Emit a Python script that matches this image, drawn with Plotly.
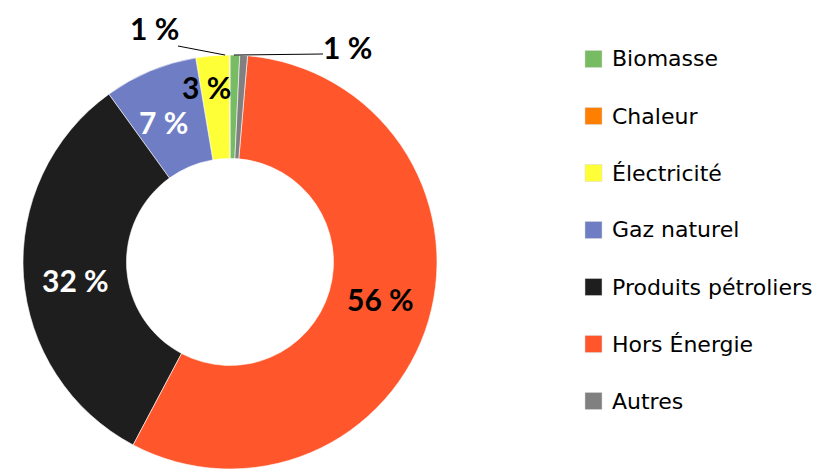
import math
import plotly.graph_objects as go

# ---- data ----
categories = ["Biomasse", "Chaleur", "Électricité", "Gaz naturel",
              "Produits pétroliers", "Hors Énergie", "Autres"]
values = [0.75, 0.05, 2.6, 7.3, 32.3, 56.4, 0.6]
value_labels = ["1 %", "", "3 %", "7 %", "32 %", "56 %", "1 %"]
colors = ["#77BB62", "#FF8000", "#FFFF38", "#6E7DC4",
          "#1E1E1E", "#FF562B", "#808080"]
label_colors = ["#000000", "#000000", "#000000", "#FFFFFF",
                "#FFFFFF", "#000000", "#000000"]

# ---- geometry (pixels) ----
W, H = 838, 469
CX, CY, R = 230, 262, 207
HOLE = 0.5
LABEL_FONT = "Lato"
LEGEND_FONT = "DejaVu Sans"


def px(x):
    return x / W


def py(y):
    return 1 - y / H


def clamp(v):
    return min(1.0, max(0.0, v))


fig = go.Figure()
fig.add_trace(go.Pie(
    labels=categories, values=values, sort=False,
    direction="counterclockwise", rotation=0, hole=HOLE,
    marker=dict(colors=colors, line=dict(color="white", width=0.6)),
    textinfo="none", hoverinfo="label+percent", showlegend=False,
    domain=dict(x=[clamp(px(CX - R)), clamp(px(CX + R))],
                y=[clamp(py(CY + R)), clamp(py(CY - R))]),
))

# slice mid angles (degrees clockwise from 12 o'clock), counterclockwise direction
total = sum(values)
cum = 0.0
mids = []
for v in values:
    start = cum / total * 360
    cum += v
    end = cum / total * 360
    mids.append(360 - (start + end) / 2)


def polar(angle, r):
    a = math.radians(angle)
    return CX + r * math.sin(a), CY - r * math.cos(a)


annotations = []
shapes = []
mid_r = R * (1 + HOLE) / 2
radius_factor = {2: 1.14}
# outside labels for tiny slices: text centre and leader start (pixels)
outside = {0: ((154, 28), (178, 46)), 6: ((347, 47), (323, 54))}

for i, (lab, col) in enumerate(zip(value_labels, label_colors)):
    if not lab:
        continue
    if i in outside:
        (tx, ty), (lx, ly) = outside[i]
        tipx, tipy = polar(mids[i], R)
        shapes.append(dict(type="line", xref="paper", yref="paper",
                           x0=px(lx), y0=py(ly), x1=px(tipx), y1=py(tipy),
                           line=dict(color="#000000", width=1)))
    else:
        tx, ty = polar(mids[i], mid_r * radius_factor.get(i, 1))
    annotations.append(dict(
        x=px(tx), y=py(ty), xref="paper", yref="paper", text=lab,
        showarrow=False, xanchor="center", yanchor="middle",
        font=dict(family=LABEL_FONT, size=30, color=col, weight="bold")))

# manual legend
LEG_X, LEG_Y0, LEG_DY, SQ = 585, 59, 57, 17
for i, (cat, c) in enumerate(zip(categories, colors)):
    yc = LEG_Y0 + i * LEG_DY
    shapes.append(dict(type="rect", xref="paper", yref="paper",
                       x0=px(LEG_X), x1=px(LEG_X + SQ),
                       y0=py(yc - SQ / 2), y1=py(yc + SQ / 2),
                       fillcolor=c, line=dict(color="#D9D9D9", width=0.5)))
    annotations.append(dict(
        x=px(LEG_X + 25), y=py(yc), xref="paper", yref="paper", text=cat,
        showarrow=False, xanchor="left", yanchor="middle",
        font=dict(family=LEGEND_FONT, size=22, color="#000000")))

fig.update_layout(
    width=W, height=H, margin=dict(l=0, r=0, t=0, b=0),
    paper_bgcolor="white", plot_bgcolor="white",
    annotations=annotations, shapes=shapes, showlegend=False,
)

fig.write_html("out.html", config={"displayModeBar": False},
               post_script="document.body.style.margin='0px';")
